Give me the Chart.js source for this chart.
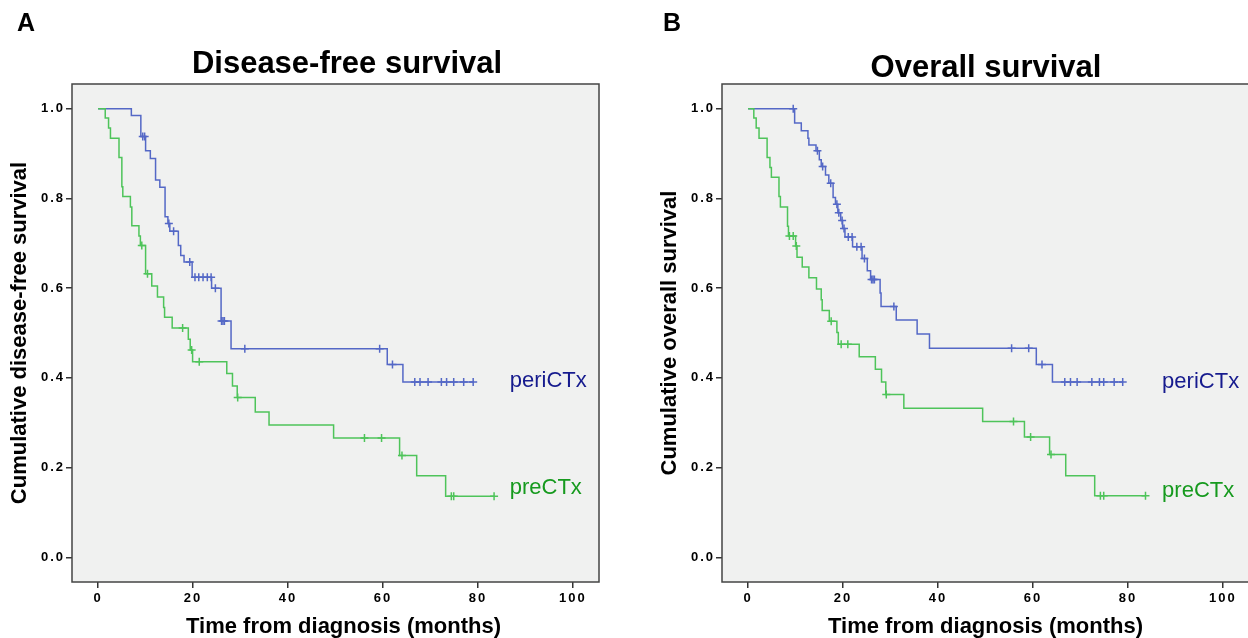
<!DOCTYPE html>
<html>
<head>
<meta charset="utf-8">
<script src="https://cdn.jsdelivr.net/npm/chart.js@4.4.1/dist/chart.umd.min.js"></script>
<style>
  html, body { margin: 0; padding: 0; background: #fff; width: 1248px; height: 638px; overflow: hidden; }
  .panel { position: absolute; top: 0; }
  .tag, .ttl {
    position: absolute;
    font-family: "Liberation Sans", Arial, Helvetica, sans-serif;
    font-weight: bold;
    line-height: 1;
    color: #000;
    white-space: nowrap;
  }
  .tag { font-size: 25px; }
  .ttl { font-size: 31px; transform: translateX(-50%); }
</style>
</head>
<body>
<canvas id="chartA" class="panel" style="left:0" width="624" height="650"></canvas>
<canvas id="chartB" class="panel" style="left:650px" width="624" height="650"></canvas>
<div class="tag" style="left:17px;top:10px">A</div>
<div class="tag" style="left:663px;top:10px">B</div>
<div class="ttl" style="left:347px;top:47px">Disease-free survival</div>
<div class="ttl" style="left:986px;top:51px">Overall survival</div>
<script>
// axes
const xTicks = [0, 20, 40, 60, 80, 100];
const yTicks = [0, 0.2, 0.4, 0.6, 0.8, 1.0];
const groupNames = ["periCTx", "preCTx"];
const xTitle = "Time from diagnosis (months)";

// A - disease-free survival (months, cumulative survival after each step)
const dfsPeriTime = [0, 7.0, 9.0, 10.0, 11.0, 12.1, 13.0, 14.1, 14.7, 15.1, 16.9, 17.4, 18.1, 19.8, 23.9, 25.9, 28.0, 60.9, 64.2];
const dfsPeriSurv = [1.0, 0.985, 0.938, 0.906, 0.889, 0.841, 0.825, 0.759, 0.744, 0.727, 0.695, 0.673, 0.658, 0.624, 0.600, 0.527, 0.465, 0.430, 0.391];
const dfsPeriCens = [9.4, 9.8, 14.9, 15.9, 19.3, 20.4, 21.2, 22.1, 23.0, 23.8, 24.7, 26.0, 26.3, 26.6, 30.9, 59.3, 62.0, 66.7, 67.8, 69.5, 72.3, 73.4, 74.9, 77.0, 79.0];

const dfsPreTime = [0, 1.5, 2.2, 2.6, 4.4, 5.0, 5.2, 6.8, 7.1, 8.6, 8.9, 10.0, 11.3, 12.5, 13.8, 14.0, 15.6, 19.0, 19.4, 19.9, 27.1, 28.3, 29.3, 33.1, 36.0, 49.6, 63.5, 67.1, 73.2];
const dfsPreSurv = [1.0, 0.979, 0.957, 0.934, 0.891, 0.826, 0.804, 0.781, 0.739, 0.716, 0.695, 0.632, 0.605, 0.580, 0.557, 0.535, 0.511, 0.486, 0.462, 0.436, 0.410, 0.382, 0.356, 0.324, 0.295, 0.266, 0.227, 0.182, 0.136];
const dfsPreCens = [9.2, 10.4, 17.8, 19.7, 21.3, 29.4, 56.1, 59.7, 64.0, 74.4, 74.9, 83.4];

// B - overall survival
const osPeriTime = [0, 9.8, 11.2, 12.6, 12.8, 14.3, 15.0, 15.4, 16.3, 17.0, 17.9, 18.4, 18.9, 19.5, 19.9, 20.4, 22.0, 24.0, 25.1, 25.8, 27.8, 28.0, 31.2, 35.6, 38.2, 60.7, 64.1];
const osPeriSurv = [1.0, 0.968, 0.951, 0.934, 0.919, 0.906, 0.886, 0.871, 0.852, 0.834, 0.802, 0.787, 0.768, 0.751, 0.733, 0.714, 0.692, 0.666, 0.639, 0.619, 0.589, 0.559, 0.529, 0.498, 0.466, 0.430, 0.391];
const osPeriCens = [9.5, 14.6, 15.7, 17.4, 18.7, 19.1, 19.8, 20.2, 21.1, 21.9, 22.9, 23.8, 24.5, 26.0, 26.3, 26.6, 30.7, 55.5, 59.1, 61.9, 66.7, 67.9, 69.3, 72.4, 74.0, 74.9, 77.1, 78.9];

const osPreTime = [0, 1.2, 1.7, 2.3, 4.0, 4.6, 4.9, 6.5, 6.8, 8.3, 8.5, 10.0, 10.3, 11.4, 12.8, 14.4, 15.4, 15.6, 17.1, 18.7, 19.0, 23.4, 26.8, 28.1, 29.0, 32.8, 49.4, 58.2, 63.5, 66.9, 73.0];
const osPreSurv = [1.0, 0.979, 0.957, 0.934, 0.891, 0.869, 0.847, 0.804, 0.781, 0.738, 0.716, 0.694, 0.669, 0.647, 0.623, 0.598, 0.574, 0.550, 0.526, 0.501, 0.475, 0.447, 0.419, 0.391, 0.363, 0.332, 0.303, 0.268, 0.229, 0.182, 0.137];
const osPreCens = [8.7, 9.5, 10.15, 17.5, 19.6, 21.0, 29.1, 55.9, 59.5, 63.8, 74.2, 74.9, 83.7];

// where the group names sit, in data units
const labelTimeA = [86.7, 86.7];
const labelSurvA = [0.394, 0.154];
const labelTimeB = [87.2, 87.2];
const labelSurvB = [0.391, 0.149];

const BLUE = "rgb(84,104,198)";
const GREEN = "rgb(78,196,90)";
const LABEL_COLORS = ["#161b8e", "#169a1e"];
const PLOT_BG = "#f0f1f0";
const FONT = '"Liberation Sans", Arial, Helvetica, sans-serif';

function kmPoints(times, surv, cens) {
  const pts = times.map((t, i) => ({ x: t, y: surv[i] }));
  const last = cens[cens.length - 1];
  if (last > times[times.length - 1]) pts.push({ x: last, y: surv[surv.length - 1] });
  return pts;
}

// censor marks sit on the curve
function censPoints(times, surv, cens) {
  return cens.map(t => {
    let s = surv[0];
    for (let i = 0; i < times.length; i++) if (times[i] <= t) s = surv[i];
    return { x: t, y: s };
  });
}

const framePlugin = {
  id: "frame",
  beforeDraw(chart) {
    const { ctx, chartArea: a } = chart;
    ctx.letterSpacing = "0px";
    ctx.save();
    ctx.fillStyle = PLOT_BG;
    ctx.fillRect(a.left, a.top, a.right - a.left, a.bottom - a.top);
    ctx.restore();
  },
  afterDatasetsDraw(chart) {
    const { ctx, chartArea: a } = chart;
    ctx.save();
    ctx.strokeStyle = "#444";
    ctx.lineWidth = 1.5;
    ctx.strokeRect(a.left, a.top, a.right - a.left, a.bottom - a.top);
    ctx.restore();
    // tick labels (z:1) are drawn right after this, spaced out like SPSS
    ctx.letterSpacing = "2px";
  },
  afterDraw(chart) {
    const { ctx, scales, chartArea: a } = chart;
    const o = chart.options.plugins.frame;
    ctx.letterSpacing = "0px";
    ctx.save();
    // x axis title
    ctx.font = "bold 22px " + FONT;
    ctx.fillStyle = "#000";
    ctx.textAlign = "center";
    ctx.textBaseline = "middle";
    ctx.fillText(xTitle, (a.left + a.right) / 2 + o.xTitleShift, scales.x.bottom - 23);
    // group names
    ctx.font = "22px " + FONT;
    ctx.textAlign = "left";
    groupNames.forEach((name, i) => {
      ctx.fillStyle = LABEL_COLORS[i];
      ctx.fillText(name, scales.x.getPixelForValue(o.labelTime[i]), scales.y.getPixelForValue(o.labelSurv[i]));
    });
    ctx.restore();
  },
};

function buildChart(canvasId, cfg) {
  const tickFont = { family: FONT, size: 13, weight: "bold" };
  const titleFont = { family: FONT, size: 22, weight: "bold" };
  return new Chart(document.getElementById(canvasId), {
    type: "line",
    data: {
      datasets: [
        { label: groupNames[1], data: kmPoints(cfg.preT, cfg.preS, cfg.preC), borderColor: GREEN, borderWidth: 1.5, stepped: true, pointRadius: 0, order: 0 },
        { type: "scatter", data: censPoints(cfg.preT, cfg.preS, cfg.preC), pointStyle: "cross", pointRadius: 4, borderColor: GREEN, borderWidth: 1.5, order: 0 },
        { label: groupNames[0], data: kmPoints(cfg.periT, cfg.periS, cfg.periC), borderColor: BLUE, borderWidth: 1.5, stepped: true, pointRadius: 0, order: 1 },
        { type: "scatter", data: censPoints(cfg.periT, cfg.periS, cfg.periC), pointStyle: "cross", pointRadius: 4, borderColor: BLUE, borderWidth: 1.5, order: 1 },
      ],
    },
    options: {
      responsive: false,
      animation: false,
      events: [],
      layout: { padding: { top: 84, right: 25, bottom: 0, left: 0 } },
      plugins: {
        legend: { display: false },
        tooltip: { enabled: false },
        frame: { labelTime: cfg.labelTime, labelSurv: cfg.labelSurv, xTitleShift: cfg.xTitleShift },
      },
      scales: {
        x: {
          type: "linear",
          min: -5.5,
          max: 105.5,
          afterBuildTicks: s => { s.ticks = xTicks.map(v => ({ value: v })); },
          afterFit: s => { s.height = 68; },
          border: { display: false },
          grid: { drawOnChartArea: false, drawTicks: true, tickLength: 6, color: "#333", lineWidth: 1.5 },
          ticks: { font: tickFont, color: "#000", padding: 3, z: 1, maxRotation: 0, autoSkip: false },
          title: { display: false },
        },
        y: {
          type: "linear",
          min: -0.055,
          max: 1.055,
          afterBuildTicks: s => { s.ticks = yTicks.map(v => ({ value: v })); },
          afterFit: s => { s.width = 72; },
          border: { display: false },
          grid: { drawOnChartArea: false, drawTicks: true, tickLength: 6, color: "#333", lineWidth: 1.5 },
          ticks: { font: tickFont, color: "#000", padding: 1, z: 1, callback: v => Number(v).toFixed(1) },
          title: { display: true, text: cfg.yTitle, font: titleFont, color: "#000", padding: { top: 7, bottom: 0 } },
        },
      },
    },
    plugins: [framePlugin],
  });
}

buildChart("chartA", {
  periT: dfsPeriTime, periS: dfsPeriSurv, periC: dfsPeriCens,
  preT: dfsPreTime, preS: dfsPreSurv, preC: dfsPreCens,
  yTitle: "Cumulative disease-free survival",
  labelTime: labelTimeA, labelSurv: labelSurvA,
  xTitleShift: 8,
});

buildChart("chartB", {
  periT: osPeriTime, periS: osPeriSurv, periC: osPeriCens,
  preT: osPreTime, preS: osPreSurv, preC: osPreCens,
  yTitle: "Cumulative overall survival",
  labelTime: labelTimeB, labelSurv: labelSurvB,
  xTitleShift: 0,
});
</script>
</body>
</html>
